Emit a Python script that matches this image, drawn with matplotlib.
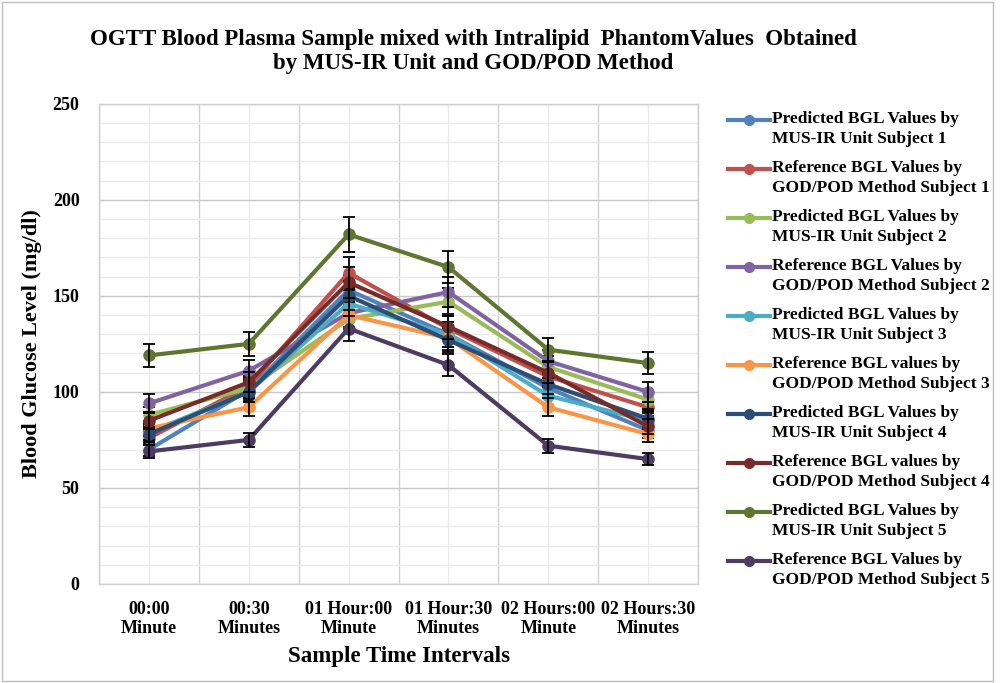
import numpy as np
import matplotlib
matplotlib.use("Agg")
import matplotlib.pyplot as plt
from matplotlib.lines import Line2D
from matplotlib.patches import Rectangle
from matplotlib.ticker import MultipleLocator, FixedLocator

plt.rcParams['font.family'] = ['Liberation Serif', 'DejaVu Serif']
plt.rcParams['font.weight'] = 'bold'

##########
## Data ##
##########
time_labels = ["00:00\nMinute", "00:30\nMinutes", "01 Hour:00\nMinute",
               "01 Hour:30\nMinutes", "02 Hours:00\nMinute", "02 Hours:30\nMinutes"]

series_names = [
    "Predicted BGL Values by\nMUS-IR Unit Subject 1",
    "Reference BGL Values by\nGOD/POD Method Subject 1",
    "Predicted BGL Values by\nMUS-IR Unit Subject 2",
    "Reference BGL Values by\nGOD/POD Method Subject 2",
    "Predicted BGL Values by\nMUS-IR Unit Subject 3",
    "Reference BGL values by\nGOD/POD Method Subject 3",
    "Predicted BGL Values by\nMUS-IR Unit Subject 4",
    "Reference BGL values by\nGOD/POD Method Subject 4",
    "Predicted BGL Values by\nMUS-IR Unit Subject 5",
    "Reference BGL Values by\nGOD/POD Method Subject 5",
]

pred_s1 = [70, 101, 153, 130, 102, 80]
ref_s1 = [76, 103, 162, 133, 108, 92]
pred_s2 = [88, 102, 138, 147, 113, 96]
ref_s2 = [94, 111, 141, 152, 116, 100]
pred_s3 = [79, 100, 146, 130, 98, 85]
ref_s3 = [81, 92, 140, 128, 92, 78]
pred_s4 = [78, 100, 150, 127, 104, 86]
ref_s4 = [85, 105, 157, 134, 110, 82]
pred_s5 = [119, 125, 182, 165, 122, 115]
ref_s5 = [69, 75, 133, 114, 72, 65]

all_series = [pred_s1, ref_s1, pred_s2, ref_s2, pred_s3,
              ref_s3, pred_s4, ref_s4, pred_s5, ref_s5]

# 5% error bars on every series
err_frac = 0.05

colors = ["#4F81BD", "#C0504D", "#9BBB59", "#8064A2", "#4BACC6",
          "#F79646", "#2C4D75", "#772C2A", "#5F7530", "#4D3B62"]

##########
## Plot ##
##########
fig = plt.figure(figsize=(10, 6.83), dpi=100)
ax = fig.add_axes([0.099, 0.145, 0.599, 0.703])

x = np.arange(len(time_labels))
for i, vals in enumerate(all_series):
    vals = np.asarray(vals, dtype=float)
    ax.plot(x, vals, color=colors[i], lw=3.0, marker="o", markersize=8,
            zorder=3 + 2 * i)
    ax.errorbar(x, vals, yerr=vals * err_frac, fmt="none", ecolor="k",
                elinewidth=1.3, capsize=4, capthick=1.3, zorder=4 + 2 * i)

ax.set_xlim(-0.5, len(time_labels) - 0.5)
ax.set_ylim(0, 250)
ax.yaxis.set_major_locator(MultipleLocator(50))
ax.yaxis.set_minor_locator(MultipleLocator(10))
ax.set_xticks(x)
ax.set_xticklabels(time_labels, fontsize=13, fontweight="bold", linespacing=1.2)
ax.xaxis.set_minor_locator(FixedLocator(np.arange(-0.5, len(time_labels), 1.0)))
ax.tick_params(axis="both", which="both", length=0)
ax.tick_params(axis="x", pad=12)
ax.tick_params(axis="y", pad=14, labelsize=13)
for lab in ax.get_yticklabels():
    lab.set_fontweight("bold")

# gridlines
ax.yaxis.grid(True, which="major", color="#C8C8C8", lw=1.0)
ax.yaxis.grid(True, which="minor", color="#EAEAEA", lw=0.9)
ax.xaxis.grid(True, which="minor", color="#D0D0D0", lw=1.0)
ax.xaxis.grid(True, which="major", color="#EAEAEA", lw=0.9)
ax.set_axisbelow(True)
for sp in ax.spines.values():
    sp.set_color("#D0D0D0")
    sp.set_linewidth(1.0)

ax.set_ylabel("Blood Glucose Level (mg/dl)", fontsize=16, fontweight="bold", labelpad=8)
ax.set_xlabel("Sample Time Intervals", fontsize=16.5, fontweight="bold", labelpad=6)
fig.text(0.473, 0.925, "OGTT Blood Plasma Sample mixed with Intralipid  PhantomValues  Obtained\n"
         "by MUS-IR Unit and GOD/POD Method",
         ha="center", va="center", fontsize=16.5, fontweight="bold", linespacing=1.2)

# legend drawn as key lines + two-line labels down the right side
leg_top = 120
leg_step = 49
for i, name in enumerate(series_names):
    ypix = leg_top + i * leg_step
    yf = 1 - ypix / 683.0
    fig.add_artist(Line2D([728 / 1000.0, 770 / 1000.0], [yf, yf], color=colors[i], lw=3.0))
    fig.add_artist(Line2D([749 / 1000.0], [yf], color=colors[i], marker="o", markersize=7))
    fig.text(772 / 1000.0, yf + 9 / 683.0, name, ha="left", va="top",
             fontsize=12.5, fontweight="bold", linespacing=1.3)

# chart border
fig.add_artist(Rectangle((0.002, 0.003), 0.991, 0.994, transform=fig.transFigure,
                         fill=False, edgecolor="#BFBFBF", lw=1.0))

plt.savefig("out.png", dpi=100)
